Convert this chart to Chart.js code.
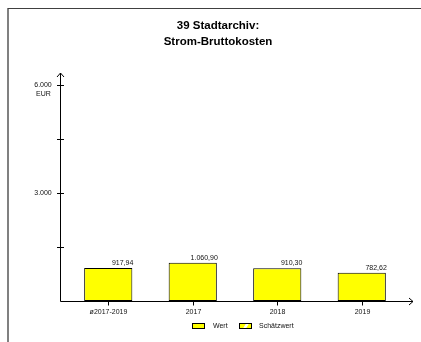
<!DOCTYPE html>
<html>
<head>
<meta charset="utf-8">
<script src="https://cdn.jsdelivr.net/npm/chart.js@4/dist/chart.umd.min.js"></script>
<style>
html,body{margin:0;padding:0;background:#fff;}
#wrap{width:421px;height:342px;}
</style>
</head>
<body>
<div id="wrap"><canvas id="c" width="421" height="342"></canvas></div>
<script>
// ---- data ----
const categories = ['ø2017-2019', '2017', '2018', '2019'];
const wertValues = [917.94, 1060.90, 910.30, 782.62];
const yMajorTicks = [3000, 6000];
const yMajorTickLabels = ['3.000', '6.000'];
const yMinorTicks = [1500, 4500];
const titleLines = ['39 Stadtarchiv:', 'Strom-Bruttokosten'];
const unitLabel = 'EUR';
const legendLabels = ['Wert', 'Schätzwert'];

function fmtDe(v) {
  const parts = v.toFixed(2).split('.');
  const intPart = parts[0].replace(/\B(?=(\d{3})+(?!\d))/g, '.');
  return intPart + ',' + parts[1];
}

const FONT = "'Liberation Sans', Arial, sans-serif";

const decor = {
  id: 'decor',
  afterDatasetsDraw(chart) {
    const ctx = chart.ctx;
    const xS = chart.scales.x, yS = chart.scales.y;
    ctx.save();
    // frame
    ctx.fillStyle = '#808080';
    ctx.fillRect(7, 8, 2, 334);
    ctx.strokeStyle = '#404040';
    ctx.lineWidth = 1;
    ctx.beginPath(); ctx.moveTo(8, 8.5); ctx.lineTo(421, 8.5); ctx.stroke();

    // title
    ctx.fillStyle = '#000';
    ctx.font = 'bold 11.5px ' + FONT;
    ctx.textAlign = 'center';
    ctx.textBaseline = 'middle';
    ctx.fillText(titleLines[0], 218, 25.5);
    ctx.fillText(titleLines[1], 218, 41.5);

    const y0 = Math.round(yS.getPixelForValue(0)) + 0.5;
    const ax = 60.5;
    ctx.strokeStyle = '#000';
    ctx.lineWidth = 1;
    // y axis
    ctx.beginPath(); ctx.moveTo(ax, y0); ctx.lineTo(ax, 73); ctx.stroke();
    ctx.beginPath(); ctx.moveTo(57, 77); ctx.lineTo(ax, 73); ctx.lineTo(64, 77); ctx.stroke();
    // x axis
    ctx.beginPath(); ctx.moveTo(ax, y0); ctx.lineTo(413, y0); ctx.stroke();
    ctx.beginPath(); ctx.moveTo(409, y0 - 3.5); ctx.lineTo(413, y0); ctx.lineTo(409, y0 + 3.5); ctx.stroke();

    // y ticks
    [...yMajorTicks, ...yMinorTicks].forEach(v => {
      const y = Math.round(yS.getPixelForValue(v)) + 0.5;
      ctx.beginPath(); ctx.moveTo(57, y); ctx.lineTo(64, y); ctx.stroke();
    });
    ctx.font = '7px ' + FONT;
    ctx.fillStyle = '#111';
    ctx.textAlign = 'center';
    ctx.textBaseline = 'middle';
    yMajorTicks.forEach((v, i) => {
      ctx.fillText(yMajorTickLabels[i], 43, yS.getPixelForValue(v));
    });
    ctx.fillText(unitLabel, 43.5, yS.getPixelForValue(6000) + 9);

    // x ticks + labels
    categories.forEach((c, i) => {
      const x = Math.round(xS.getPixelForValue(i)) + 0.5;
      ctx.beginPath(); ctx.moveTo(x, y0); ctx.lineTo(x, y0 + 4); ctx.stroke();
      ctx.fillText(c, x, 312);
    });

    // value labels
    const meta = chart.getDatasetMeta(0);
    ctx.textAlign = 'right';
    ctx.textBaseline = 'alphabetic';
    meta.data.forEach((bar, i) => {
      ctx.fillText(fmtDe(wertValues[i]), bar.x + bar.width / 2 + 1, bar.y - 3);
    });

    // legend
    ctx.lineWidth = 1;
    ctx.fillStyle = '#ffff00';
    ctx.fillRect(192.5, 323.5, 12, 5);
    ctx.strokeRect(192.5, 323.5, 12, 5);
    ctx.fillStyle = '#111';
    ctx.textAlign = 'left';
    ctx.textBaseline = 'middle';
    ctx.fillText(legendLabels[0], 213, 326);
    // Schätzwert box
    ctx.fillStyle = '#ffff00';
    ctx.fillRect(239.5, 323.5, 12, 5);
    ctx.fillStyle = '#ffffff';
    ctx.beginPath();
    ctx.moveTo(243, 328.5); ctx.lineTo(246, 323.5); ctx.lineTo(249, 323.5); ctx.lineTo(246, 328.5);
    ctx.closePath(); ctx.fill();
    ctx.strokeRect(239.5, 323.5, 12, 5);
    ctx.fillStyle = '#111';
    ctx.fillText(legendLabels[1], 259, 326);
    ctx.restore();
  }
};

new Chart(document.getElementById('c'), {
  type: 'bar',
  data: {
    labels: categories,
    datasets: [{
      label: legendLabels[0],
      data: wertValues,
      backgroundColor: '#ffff00',
      borderColor: '#000000',
      borderWidth: 1,
      borderSkipped: false,
      categoryPercentage: 1,
      barPercentage: 0.57
    }]
  },
  options: {
    responsive: false,
    animation: false,
    devicePixelRatio: 1,
    layout: { padding: { left: 66, right: 17, top: 85, bottom: 41 } },
    plugins: { legend: { display: false }, title: { display: false }, tooltip: { enabled: false } },
    scales: {
      x: { display: false, offset: true },
      y: { display: false, min: 0, max: 6000 }
    }
  },
  plugins: [decor]
});
</script>
</body>
</html>
